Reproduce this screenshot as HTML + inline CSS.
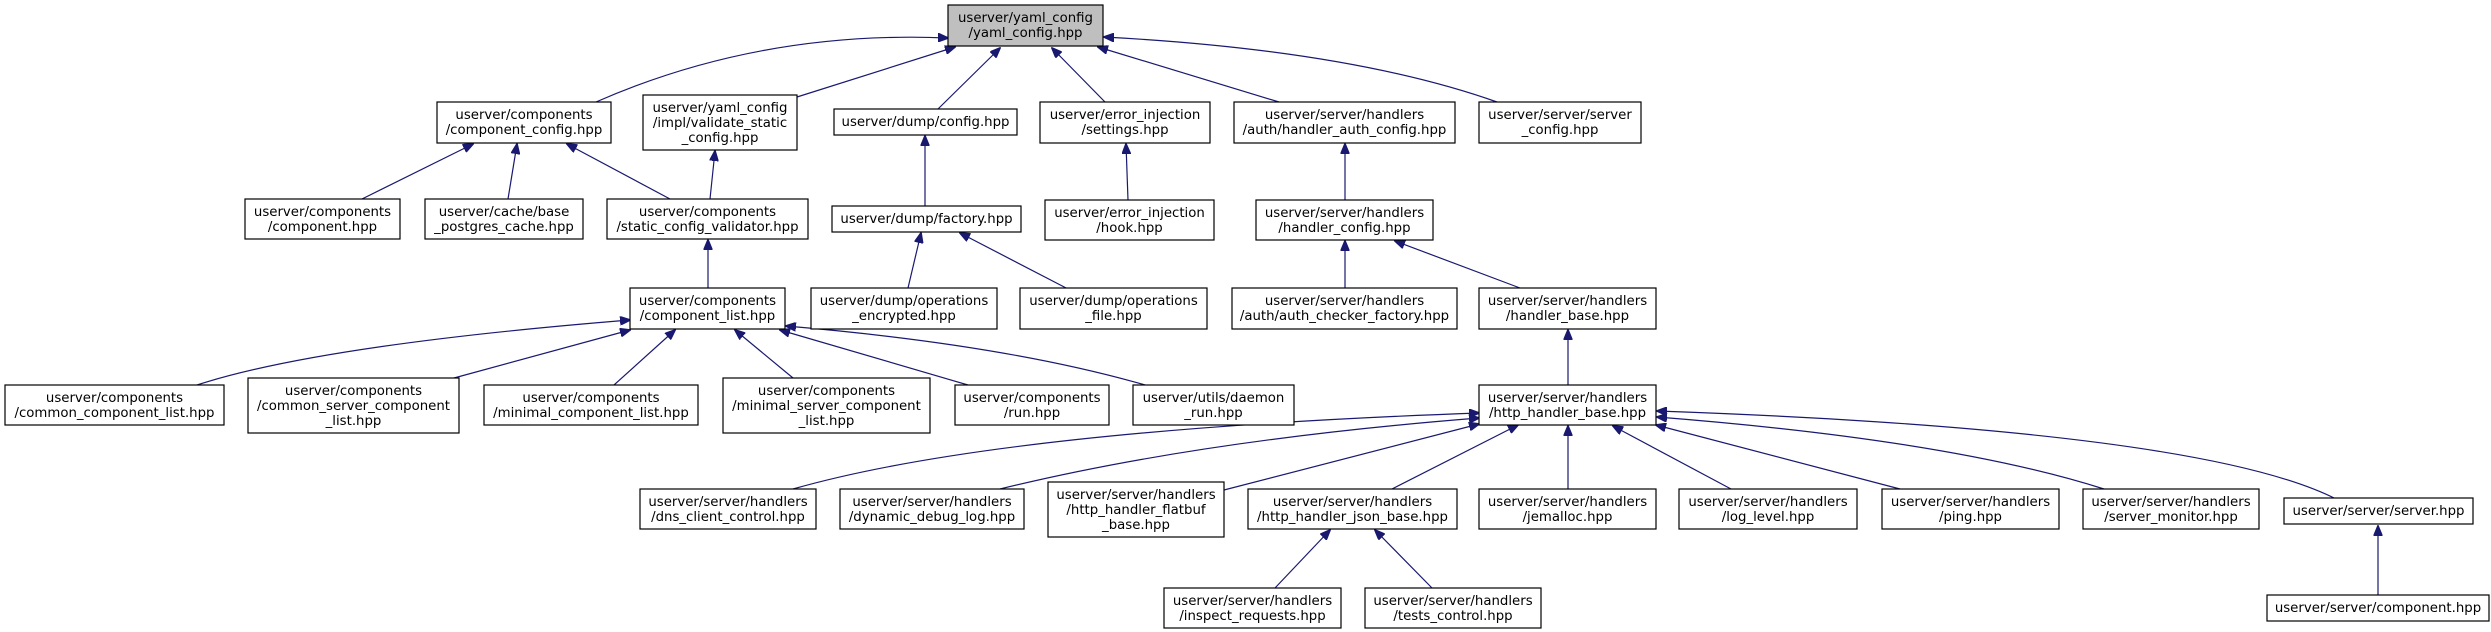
<!DOCTYPE html>
<html><head><meta charset="utf-8"><style>
html,body{margin:0;padding:0;background:#fff;}
svg{display:block;}
text{font-family:"DejaVu Sans","Liberation Sans",sans-serif;font-size:13.3px;fill:#000;}
.b{fill:#fff;stroke:#000;stroke-width:1.2;}
.e{fill:none;stroke:#191970;stroke-width:1.2;marker-end:url(#a);}
</style></head><body>
<svg width="2491" height="632" viewBox="0 0 2491 632" xmlns="http://www.w3.org/2000/svg">
<defs><marker id="a" markerWidth="11" markerHeight="9" refX="10" refY="4.5" orient="auto" markerUnits="userSpaceOnUse"><path d="M0,0 L11,4.5 L0,9 z" fill="#191970" stroke="#191970"/></marker></defs>

<!-- edges -->
<path class="e" d="M596,102 Q760,30 948,38"/>
<path class="e" d="M797,97 L955,47"/>
<path class="e" d="M938,109 L1000,48"/>
<path class="e" d="M1105,102 L1052,48"/>
<path class="e" d="M1279,102 L1098,47"/>
<path class="e" d="M1497,102 Q1350,50 1104,37"/>
<path class="e" d="M362,199 L473,144"/>
<path class="e" d="M508,199 L517,144"/>
<path class="e" d="M670,199 L567,144"/>
<path class="e" d="M710,199 L715,151"/>
<path class="e" d="M925,206 L925,136"/>
<path class="e" d="M708,288 L708,240"/>
<path class="e" d="M908,288 L921,233"/>
<path class="e" d="M1070,290 L960,233"/>
<path class="e" d="M1128,200 L1126,144"/>
<path class="e" d="M1345,200 L1345,144"/>
<path class="e" d="M1345,288 L1345,241"/>
<path class="e" d="M1520,288 L1395,241"/>
<path class="e" d="M1568,385 L1568,330"/>
<path class="e" d="M197,385 Q320,345 630,320"/>
<path class="e" d="M454,378 L630,330"/>
<path class="e" d="M614,385 L675,330"/>
<path class="e" d="M793,378 L735,330"/>
<path class="e" d="M968,385 L780,330"/>
<path class="e" d="M1152,387 Q1010,345 786,326"/>
<path class="e" d="M793,489 Q1000,430 1479,413"/>
<path class="e" d="M1000,489 Q1200,440 1479,418"/>
<path class="e" d="M1224,490 L1479,424"/>
<path class="e" d="M1392,489 L1518,425"/>
<path class="e" d="M1568,489 L1568,426"/>
<path class="e" d="M1731,489 L1613,426"/>
<path class="e" d="M1900,489 L1656,425"/>
<path class="e" d="M2104,489 Q1950,440 1657,417"/>
<path class="e" d="M2336,499 Q2200,430 1657,411"/>
<path class="e" d="M1275,588 L1330,530"/>
<path class="e" d="M1432,588 L1375,530"/>
<path class="e" d="M2378,595 L2378,526"/>

<!-- nodes -->
<rect x="948" y="5" width="155" height="41" fill="#bfbfbf" stroke="#000" stroke-width="1.2"/>
<text x="1025.5" y="22" text-anchor="middle">userver/yaml_config</text>
<text x="1025.5" y="37" text-anchor="middle">/yaml_config.hpp</text>

<rect class="b" x="437" y="102" width="174" height="41"/>
<text x="524" y="119" text-anchor="middle">userver/components</text>
<text x="524" y="134" text-anchor="middle">/component_config.hpp</text>

<rect class="b" x="643" y="95" width="154" height="55"/>
<text x="720" y="112" text-anchor="middle">userver/yaml_config</text>
<text x="720" y="127" text-anchor="middle">/impl/validate_static</text>
<text x="720" y="142" text-anchor="middle">_config.hpp</text>

<rect class="b" x="834" y="109" width="183" height="26"/>
<text x="925.5" y="126" text-anchor="middle">userver/dump/config.hpp</text>

<rect class="b" x="1040" y="102" width="170" height="41"/>
<text x="1125" y="119" text-anchor="middle">userver/error_injection</text>
<text x="1125" y="134" text-anchor="middle">/settings.hpp</text>

<rect class="b" x="1234" y="102" width="221" height="41"/>
<text x="1344.5" y="119" text-anchor="middle">userver/server/handlers</text>
<text x="1344.5" y="134" text-anchor="middle">/auth/handler_auth_config.hpp</text>

<rect class="b" x="1479" y="102" width="162" height="41"/>
<text x="1560" y="119" text-anchor="middle">userver/server/server</text>
<text x="1560" y="134" text-anchor="middle">_config.hpp</text>

<rect class="b" x="245" y="199" width="155" height="40"/>
<text x="322.5" y="216" text-anchor="middle">userver/components</text>
<text x="322.5" y="231" text-anchor="middle">/component.hpp</text>

<rect class="b" x="425" y="199" width="158" height="40"/>
<text x="504" y="216" text-anchor="middle">userver/cache/base</text>
<text x="504" y="231" text-anchor="middle">_postgres_cache.hpp</text>

<rect class="b" x="607" y="199" width="201" height="40"/>
<text x="707.5" y="216" text-anchor="middle">userver/components</text>
<text x="707.5" y="231" text-anchor="middle">/static_config_validator.hpp</text>

<rect class="b" x="832" y="206" width="189" height="26"/>
<text x="926.5" y="223" text-anchor="middle">userver/dump/factory.hpp</text>

<rect class="b" x="1045" y="200" width="169" height="40"/>
<text x="1129.5" y="217" text-anchor="middle">userver/error_injection</text>
<text x="1129.5" y="232" text-anchor="middle">/hook.hpp</text>

<rect class="b" x="1256" y="200" width="177" height="40"/>
<text x="1344.5" y="217" text-anchor="middle">userver/server/handlers</text>
<text x="1344.5" y="232" text-anchor="middle">/handler_config.hpp</text>

<rect class="b" x="630" y="288" width="155" height="41"/>
<text x="707.5" y="305" text-anchor="middle">userver/components</text>
<text x="707.5" y="320" text-anchor="middle">/component_list.hpp</text>

<rect class="b" x="811" y="288" width="186" height="41"/>
<text x="904" y="305" text-anchor="middle">userver/dump/operations</text>
<text x="904" y="320" text-anchor="middle">_encrypted.hpp</text>

<rect class="b" x="1020" y="288" width="187" height="41"/>
<text x="1113.5" y="305" text-anchor="middle">userver/dump/operations</text>
<text x="1113.5" y="320" text-anchor="middle">_file.hpp</text>

<rect class="b" x="1232" y="288" width="225" height="41"/>
<text x="1344.5" y="305" text-anchor="middle">userver/server/handlers</text>
<text x="1344.5" y="320" text-anchor="middle">/auth/auth_checker_factory.hpp</text>

<rect class="b" x="1479" y="288" width="177" height="41"/>
<text x="1567.5" y="305" text-anchor="middle">userver/server/handlers</text>
<text x="1567.5" y="320" text-anchor="middle">/handler_base.hpp</text>

<rect class="b" x="5" y="385" width="219" height="40"/>
<text x="114.5" y="402" text-anchor="middle">userver/components</text>
<text x="114.5" y="417" text-anchor="middle">/common_component_list.hpp</text>

<rect class="b" x="248" y="378" width="211" height="55"/>
<text x="353.5" y="395" text-anchor="middle">userver/components</text>
<text x="353.5" y="410" text-anchor="middle">/common_server_component</text>
<text x="353.5" y="425" text-anchor="middle">_list.hpp</text>

<rect class="b" x="484" y="385" width="214" height="40"/>
<text x="591" y="402" text-anchor="middle">userver/components</text>
<text x="591" y="417" text-anchor="middle">/minimal_component_list.hpp</text>

<rect class="b" x="723" y="378" width="207" height="55"/>
<text x="826.5" y="395" text-anchor="middle">userver/components</text>
<text x="826.5" y="410" text-anchor="middle">/minimal_server_component</text>
<text x="826.5" y="425" text-anchor="middle">_list.hpp</text>

<rect class="b" x="955" y="385" width="154" height="40"/>
<text x="1032" y="402" text-anchor="middle">userver/components</text>
<text x="1032" y="417" text-anchor="middle">/run.hpp</text>

<rect class="b" x="1133" y="385" width="161" height="40"/>
<text x="1213.5" y="402" text-anchor="middle">userver/utils/daemon</text>
<text x="1213.5" y="417" text-anchor="middle">_run.hpp</text>

<rect class="b" x="1479" y="385" width="177" height="40"/>
<text x="1567.5" y="402" text-anchor="middle">userver/server/handlers</text>
<text x="1567.5" y="417" text-anchor="middle">/http_handler_base.hpp</text>

<rect class="b" x="640" y="489" width="176" height="40"/>
<text x="728" y="506" text-anchor="middle">userver/server/handlers</text>
<text x="728" y="521" text-anchor="middle">/dns_client_control.hpp</text>

<rect class="b" x="840" y="489" width="184" height="40"/>
<text x="932" y="506" text-anchor="middle">userver/server/handlers</text>
<text x="932" y="521" text-anchor="middle">/dynamic_debug_log.hpp</text>

<rect class="b" x="1048" y="482" width="176" height="55"/>
<text x="1136" y="499" text-anchor="middle">userver/server/handlers</text>
<text x="1136" y="514" text-anchor="middle">/http_handler_flatbuf</text>
<text x="1136" y="529" text-anchor="middle">_base.hpp</text>

<rect class="b" x="1248" y="489" width="209" height="40"/>
<text x="1352.5" y="506" text-anchor="middle">userver/server/handlers</text>
<text x="1352.5" y="521" text-anchor="middle">/http_handler_json_base.hpp</text>

<rect class="b" x="1479" y="489" width="177" height="40"/>
<text x="1567.5" y="506" text-anchor="middle">userver/server/handlers</text>
<text x="1567.5" y="521" text-anchor="middle">/jemalloc.hpp</text>

<rect class="b" x="1679" y="489" width="178" height="40"/>
<text x="1768" y="506" text-anchor="middle">userver/server/handlers</text>
<text x="1768" y="521" text-anchor="middle">/log_level.hpp</text>

<rect class="b" x="1882" y="489" width="177" height="40"/>
<text x="1970.5" y="506" text-anchor="middle">userver/server/handlers</text>
<text x="1970.5" y="521" text-anchor="middle">/ping.hpp</text>

<rect class="b" x="2083" y="489" width="176" height="40"/>
<text x="2171" y="506" text-anchor="middle">userver/server/handlers</text>
<text x="2171" y="521" text-anchor="middle">/server_monitor.hpp</text>

<rect class="b" x="2284" y="498" width="189" height="26"/>
<text x="2378.5" y="515" text-anchor="middle">userver/server/server.hpp</text>

<rect class="b" x="1164" y="588" width="177" height="40"/>
<text x="1252.5" y="605" text-anchor="middle">userver/server/handlers</text>
<text x="1252.5" y="620" text-anchor="middle">/inspect_requests.hpp</text>

<rect class="b" x="1365" y="588" width="176" height="40"/>
<text x="1453" y="605" text-anchor="middle">userver/server/handlers</text>
<text x="1453" y="620" text-anchor="middle">/tests_control.hpp</text>

<rect class="b" x="2267" y="595" width="222" height="26"/>
<text x="2378" y="612" text-anchor="middle">userver/server/component.hpp</text>
</svg>
</body></html>
